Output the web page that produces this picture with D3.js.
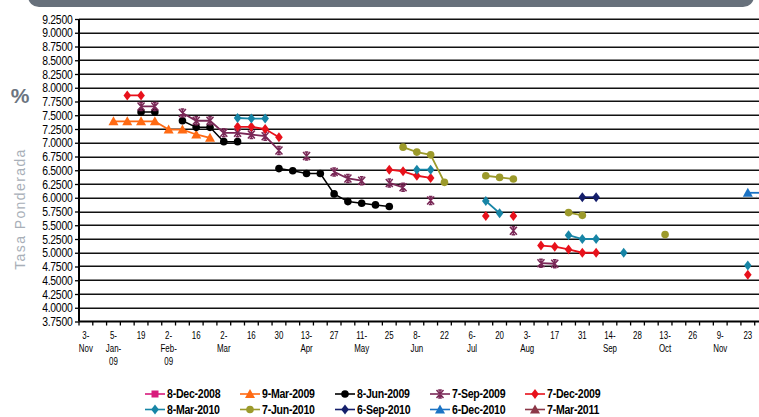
<!DOCTYPE html>
<html>
<head>
<meta charset="utf-8">
<script src="https://cdn.jsdelivr.net/npm/d3@7"></script>
<style>
body { margin: 0; background: #fff; }
svg { display: block; font-family: "Liberation Sans", Arial, sans-serif; }
</style>
</head>
<body>
<div id="chart"></div>
<script>
// auction dates (weekly categories on the x axis)
var categories = ["3-Nov-08", "1-Dec-08", "5-Jan-09", "12-Jan-09", "19-Jan-09", "26-Jan-09", "2-Feb-09", "9-Feb-09",
    "16-Feb-09", "23-Feb-09", "2-Mar-09", "9-Mar-09", "16-Mar-09", "23-Mar-09", "30-Mar-09", "6-Apr-09", "13-Apr-09",
    "20-Apr-09", "27-Apr-09", "4-May-09", "11-May-09", "18-May-09", "25-May-09", "1-Jun-09", "8-Jun-09", "15-Jun-09",
    "22-Jun-09", "29-Jun-09", "6-Jul-09", "13-Jul-09", "20-Jul-09", "27-Jul-09", "3-Aug-09", "10-Aug-09", "17-Aug-09",
    "24-Aug-09", "31-Aug-09", "7-Sep-09", "14-Sep-09", "21-Sep-09", "28-Sep-09", "5-Oct-09", "13-Oct-09", "19-Oct-09",
    "26-Oct-09", "2-Nov-09", "9-Nov-09", "16-Nov-09", "23-Nov-09", "30-Nov-09"]

// shown on every second category, lines split by "|"
var tickLabels = ["3-|Nov", "5-|Jan-|09", "19", "2-|Feb-|09", "16", "2-|Mar", "16", "30", "13-|Apr", "27", "11-|May", "25",
    "8-|Jun", "22", "6-|Jul", "20", "3-|Aug", "17", "31", "14-|Sep", "28", "13-|Oct", "26", "9-|Nov", "23"]

var yTicks = d3.range(0, 23).map(function (i) { return 3.75 + i * 0.25 })

var dec2008 = []
var mar2009 = [["5-Jan-09", 7.39], ["12-Jan-09", 7.39], ["19-Jan-09", 7.39], ["26-Jan-09", 7.39], ["2-Feb-09", 7.24],
    ["9-Feb-09", 7.24], ["16-Feb-09", 7.15], ["23-Feb-09", 7.09]]
var jun2009 = [["19-Jan-09", 7.56], ["26-Jan-09", 7.56], ["9-Feb-09", 7.40], ["16-Feb-09", 7.28], ["23-Feb-09", 7.28],
    ["2-Mar-09", 7.02], ["9-Mar-09", 7.02], ["30-Mar-09", 6.53], ["6-Apr-09", 6.49], ["13-Apr-09", 6.44], ["20-Apr-09", 6.44],
    ["27-Apr-09", 6.07], ["4-May-09", 5.93], ["11-May-09", 5.90], ["18-May-09", 5.87], ["25-May-09", 5.84]]
var sep2009 = [["19-Jan-09", 7.66], ["26-Jan-09", 7.66], ["9-Feb-09", 7.54], ["16-Feb-09", 7.40], ["23-Feb-09", 7.40],
    ["2-Mar-09", 7.18], ["9-Mar-09", 7.18], ["16-Mar-09", 7.15], ["23-Mar-09", 7.12], ["30-Mar-09", 6.86], ["13-Apr-09", 6.76],
    ["27-Apr-09", 6.47], ["4-May-09", 6.35], ["11-May-09", 6.31], ["25-May-09", 6.27], ["1-Jun-09", 6.19], ["15-Jun-09", 5.95],
    ["27-Jul-09", 5.40], ["10-Aug-09", 4.81], ["17-Aug-09", 4.80]]
var dec2009 = [["12-Jan-09", 7.86], ["19-Jan-09", 7.86], ["9-Mar-09", 7.29], ["16-Mar-09", 7.29], ["23-Mar-09", 7.25],
    ["30-Mar-09", 7.10], ["25-May-09", 6.51], ["1-Jun-09", 6.48], ["8-Jun-09", 6.40], ["15-Jun-09", 6.36], ["13-Jul-09", 5.67],
    ["27-Jul-09", 5.67], ["10-Aug-09", 5.13], ["17-Aug-09", 5.11], ["24-Aug-09", 5.06], ["31-Aug-09", 5.00], ["7-Sep-09", 5.00],
    ["23-Nov-09", 4.60]]
var mar2010 = [["9-Mar-09", 7.45], ["16-Mar-09", 7.44], ["23-Mar-09", 7.44], ["8-Jun-09", 6.51], ["15-Jun-09", 6.51],
    ["13-Jul-09", 5.94], ["20-Jul-09", 5.72], ["24-Aug-09", 5.32], ["31-Aug-09", 5.25], ["7-Sep-09", 5.25], ["21-Sep-09", 5.00],
    ["23-Nov-09", 4.77]]
var jun2010 = [["1-Jun-09", 6.92], ["8-Jun-09", 6.83], ["15-Jun-09", 6.78], ["22-Jun-09", 6.28], ["13-Jul-09", 6.40],
    ["20-Jul-09", 6.37], ["27-Jul-09", 6.34], ["24-Aug-09", 5.73], ["31-Aug-09", 5.68], ["13-Oct-09", 5.33]]
var sep2010 = [["31-Aug-09", 6.01], ["7-Sep-09", 6.01]]
var dec2010 = [["23-Nov-09", 6.09], ["30-Nov-09", 6.09]]
var mar2011 = []

var series = [
    { name: "8-Dec-2008", data: dec2008, color: "#d81b7c", marker: "square" },
    { name: "9-Mar-2009", data: mar2009, color: "#ff6a13", marker: "triangle" },
    { name: "8-Jun-2009", data: jun2009, color: "#000000", marker: "circle" },
    { name: "7-Sep-2009", data: sep2009, color: "#7a2857", marker: "star" },
    { name: "7-Dec-2009", data: dec2009, color: "#e8111b", marker: "diamond" },
    { name: "8-Mar-2010", data: mar2010, color: "#1785a6", marker: "diamond" },
    { name: "7-Jun-2010", data: jun2010, color: "#9c9a2b", marker: "circle" },
    { name: "6-Sep-2010", data: sep2010, color: "#151f6b", marker: "diamond" },
    { name: "6-Dec-2010", data: dec2010, color: "#1b73c4", marker: "triangle" },
    { name: "7-Mar-2011", data: mar2011, color: "#8b3747", marker: "triangle" }
]

var width = 759, height = 417
var plotLeft = 79, plotTop = 19, plotBottom = 321.5, step = 13.79

var svg = d3.select("#chart").append("svg")
    .attr("width", width)
    .attr("height", height)

// markers are cut a little before the window edge
svg.append("clipPath")
    .attr("id", "markclip")
    .append("rect")
    .attr("x", 0).attr("y", 0)
    .attr("width", 757).attr("height", height)

// grey banner at the top
svg.append("rect")
    .attr("x", 28).attr("y", -14)
    .attr("width", 726).attr("height", 21)
    .attr("rx", 11)
    .attr("fill", "#67707b")

var x = d3.scaleBand()
    .domain(categories)
    .range([plotLeft, plotLeft + categories.length * step])

var y = d3.scaleLinear()
    .domain([3.75, 9.25])
    .range([plotBottom, plotTop])

// narrow text like the excel rendering: squeeze horizontally
function narrowText(parent, tx, ty, sx) {
    return parent.append("g")
        .attr("transform", `translate(${tx},${ty}) scale(${sx},1)`)
        .append("text")
}

// gridlines
svg.append("g").selectAll("line")
    .data(yTicks.slice(1))
    .enter()
    .append("line")
    .attr("x1", plotLeft).attr("x2", width)
    .attr("y1", function (d) { return Math.round(y(d)) + 0.25 })
    .attr("y2", function (d) { return Math.round(y(d)) + 0.25 })
    .attr("stroke", "#111")
    .attr("stroke-width", 1.5)

var yAxis = d3.axisLeft(y)
    .tickValues(yTicks)
    .tickFormat("")
    .tickSize(4)

var yGroup = svg.append("g")
    .attr("transform", `translate(${plotLeft},0)`)
    .call(yAxis)
yGroup.select(".domain").remove()
yGroup.selectAll("line").attr("stroke", "#000").attr("stroke-width", 1.3)

var fmt = d3.format(".4f")
yTicks.forEach(function (v) {
    narrowText(svg, 72.5, y(v) + 4.6, 0.8)
        .attr("text-anchor", "end")
        .attr("font-size", 13)
        .attr("letter-spacing", -0.3)
        .attr("fill", "#000")
        .text(fmt(v))
})

// x tick marks at category boundaries
svg.append("g").selectAll("line")
    .data(categories)
    .enter()
    .append("line")
    .attr("x1", function (d) { return x(d) })
    .attr("x2", function (d) { return x(d) })
    .attr("y1", plotBottom).attr("y2", plotBottom + 4)
    .attr("stroke", "#000")
    .attr("stroke-width", 1.3)

tickLabels.forEach(function (t, i) {
    var c = categories[i * 2]
    var txt = narrowText(svg, x(c) + x.bandwidth() / 2, plotBottom + 17, 0.72)
        .attr("font-size", 11)
        .attr("text-anchor", "middle")
        .attr("fill", "#000")
    t.split("|").forEach(function (part, j) {
        txt.append("tspan")
            .attr("x", 0)
            .attr("dy", j === 0 ? 0 : 13.3)
            .text(part)
    })
})

// axis lines
svg.append("line")
    .attr("x1", plotLeft).attr("x2", plotLeft)
    .attr("y1", plotTop).attr("y2", plotBottom)
    .attr("stroke", "#000").attr("stroke-width", 2)
svg.append("line")
    .attr("x1", plotLeft).attr("x2", width)
    .attr("y1", plotBottom).attr("y2", plotBottom)
    .attr("stroke", "#000").attr("stroke-width", 2)

// axis titles
svg.append("text")
    .attr("x", 20).attr("y", 103)
    .attr("text-anchor", "middle")
    .attr("font-size", 21)
    .attr("font-weight", "bold")
    .attr("fill", "#6b7480")
    .text("%")

svg.append("text")
    .attr("transform", "translate(25,209) rotate(-90)")
    .attr("text-anchor", "middle")
    .attr("font-size", 14)
    .attr("letter-spacing", 1.4)
    .attr("fill", "#a8afb8")
    .text("Tasa Ponderada")

function drawMarker(g, type, color) {
    if (type === "square") {
        g.append("rect").attr("x", -3.5).attr("y", -3.5).attr("width", 7).attr("height", 7).attr("fill", color)
    } else if (type === "triangle") {
        g.append("path").attr("d", "M0,-5L5,4L-5,4Z").attr("fill", color)
    } else if (type === "circle") {
        g.append("circle").attr("r", 3.8).attr("fill", color)
    } else if (type === "diamond") {
        g.append("path").attr("d", "M0,-5L3.8,0L0,5L-3.8,0Z").attr("fill", color)
    } else if (type === "star") {
        g.append("path").attr("d", "M-3.5,-4L3.5,4M-3.5,4L3.5,-4M0,-4.5L0,4.5M-1.8,-4L1.8,-4M-1.8,4L1.8,4")
            .attr("stroke", color).attr("stroke-width", 1.5).attr("fill", "none")
    }
}

var line = d3.line()
    .defined(function (d) { return d !== null })
    .x(function (d) { return x(d[0]) + x.bandwidth() / 2 })
    .y(function (d) { return y(d[1]) })

var plot = svg.append("g")

series.forEach(function (s) {
    // empty categories break the line
    var full = categories.map(function (c) {
        var p = s.data.find(function (d) { return d[0] === c })
        return p ? p : null
    })
    var g = plot.append("g")
    g.append("path")
        .attr("d", line(full))
        .attr("fill", "none")
        .attr("stroke", s.color)
        .attr("stroke-width", s.color === "#000000" ? 1.5 : 1.8)

    var marks = g.append("g").attr("clip-path", "url(#markclip)")
    s.data.forEach(function (d) {
        var m = marks.append("g")
            .attr("transform", `translate(${x(d[0]) + x.bandwidth() / 2},${y(d[1])})`)
        drawMarker(m, s.marker, s.color)
    })
})

// legend
series.forEach(function (s, i) {
    var lx = 145 + (i % 5) * 95
    var ly = i < 5 ? 394 : 409.5
    var item = svg.append("g").attr("transform", `translate(${lx},${ly})`)
    item.append("line")
        .attr("x1", 0).attr("x2", 20)
        .attr("stroke", s.color).attr("stroke-width", 1.6)
    drawMarker(item.append("g").attr("transform", "translate(10,0)"), s.marker, s.color)
    narrowText(item, 22, 4.3, 0.8)
        .attr("font-size", 13.2)
        .attr("font-weight", "bold")
        .attr("letter-spacing", -0.3)
        .attr("fill", "#000")
        .text(s.name)
})
</script>
</body>
</html>
